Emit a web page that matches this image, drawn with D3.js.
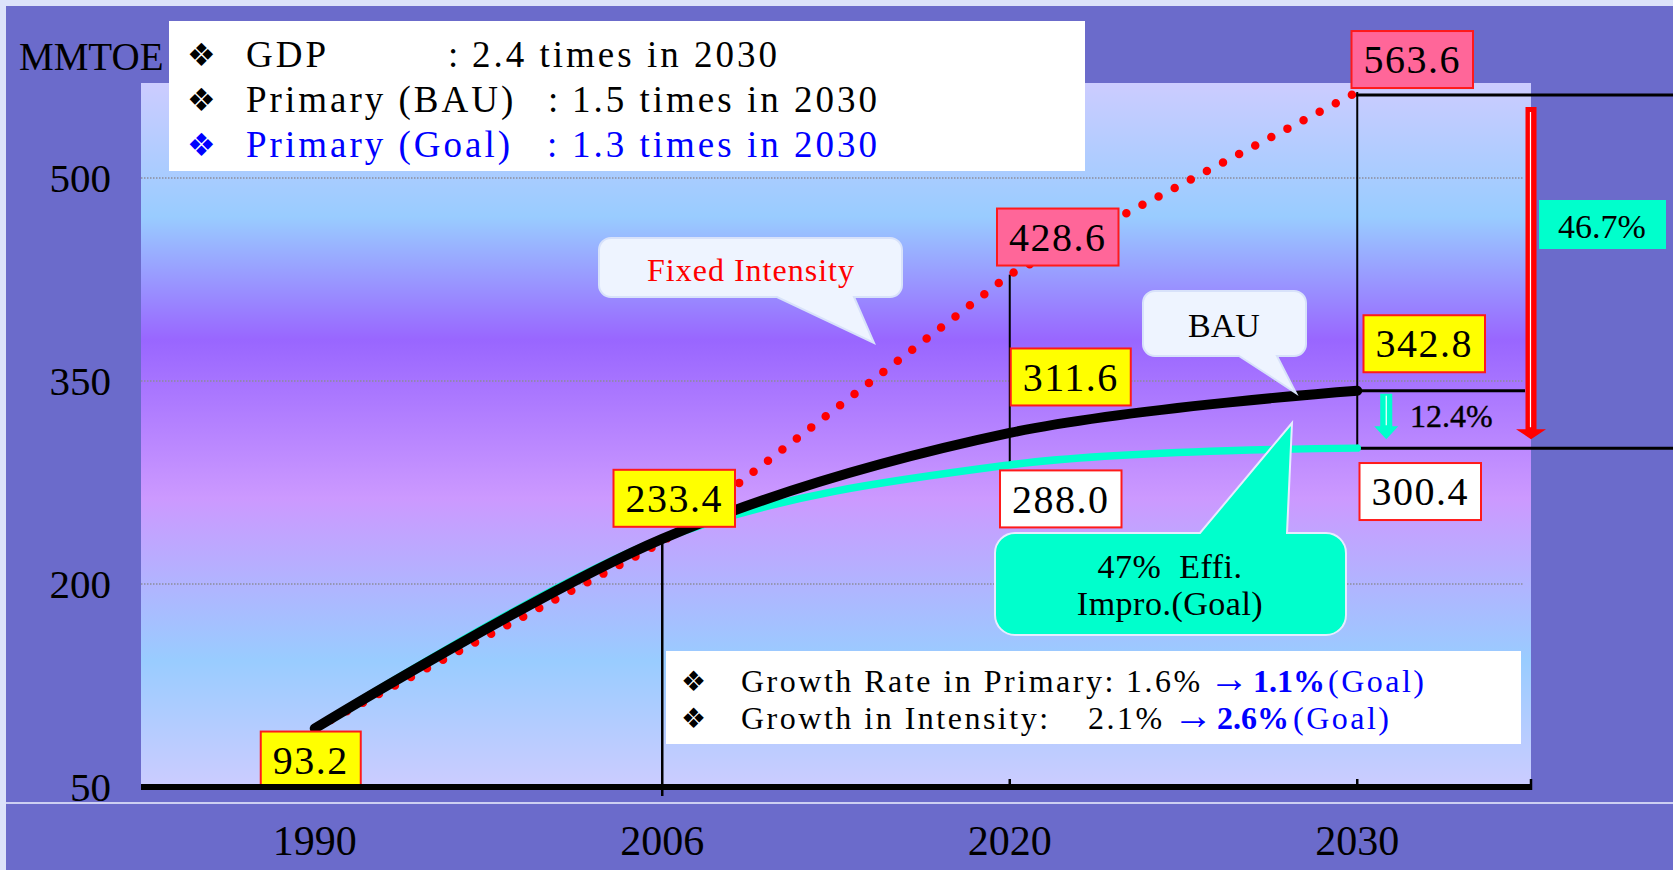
<!DOCTYPE html>
<html><head><meta charset="utf-8">
<script src="https://cdn.jsdelivr.net/npm/d3@7/dist/d3.min.js"></script>
<style>html,body{margin:0;padding:0;overflow:hidden;background:#6B6BCB}svg{display:block}</style>
</head><body>
<svg id="chart" width="1673" height="870"></svg>
<script>
// ---------------- data ----------------
const years = [1990, 2006, 2020, 2030];
const bauValues = [93.2, 233.4, 311.6, 342.8];
const goalValues = [93.2, 233.4, 288.0, 300.4];
const fixedIntensityValues = [93.2, 231.0, 428.6, 563.6];
const yTickValues = [50, 200, 350, 500];
const gridValues = [200, 350, 500];
const unitLabel = "MMTOE";
const headerNames = ["GDP", "Primary (BAU)", "Primary (Goal)"];
const headerRatios = ["2.4 times in 2030", "1.5 times in 2030", "1.3 times in 2030"];
const noteNames = ["Growth Rate in Primary:", "Growth in Intensity:"];
const noteFrom = ["1.6%", "2.1%"];
const noteGoal = ["1.1%", "2.6%"];
const noteGoalTag = "(Goal)";
const calloutTexts = ["Fixed Intensity", "BAU"];
const effiTexts = ["47%  Effi.", "Impro.(Goal)"];
const reductionTotal = "46.7%";
const reductionBau = "12.4%";
const labelledPoints = [["bau",0],["bau",1],["bau",2],["goal",2],["fixed",2],["fixed",3],["bau",3],["goal",3]];

// ---------------- setup ----------------
const W = 1673, H = 870;
const SERIF = "'Liberation Serif','DejaVu Serif','Times New Roman',serif";
const SYM = "'DejaVu Sans','Noto Sans',sans-serif";
const plot = {x0: 141, x1: 1531, y0: 83, y1: 787};
const series = {bau: bauValues, goal: goalValues, fixed: fixedIntensityValues};
const seriesFill = {bau: "#FFFF00", goal: "#FFFFFF", fixed: "#FF6699"};

const svg = d3.select("#chart");
const x = d3.scalePoint().domain(years).range([plot.x0, plot.x1]).padding(0.5);
const y = d3.scaleLinear().domain([50, 500]).range([787, 178]);

const defs = svg.append("defs");
const grad = defs.append("linearGradient").attr("id","pg").attr("x1",0).attr("y1",0).attr("x2",0).attr("y2",1);
[[0,"#CCCCFF"],[0.19,"#99CCFF"],[0.365,"#9966FF"],[0.59,"#CC99FF"],[0.82,"#99CCFF"],[1,"#CCCCFF"]]
  .forEach(([o,c]) => grad.append("stop").attr("offset",o).attr("stop-color",c));

// background
svg.append("rect").attr("width",W).attr("height",H).attr("fill","#DCE2FA");
svg.append("rect").attr("x",6).attr("y",6).attr("width",W-6).attr("height",H-6).attr("fill","#6B6BCB");
svg.append("rect").attr("x",plot.x0).attr("y",plot.y0).attr("width",plot.x1-plot.x0).attr("height",plot.y1-plot.y0).attr("fill","url(#pg)");
svg.append("line").attr("x1",6).attr("x2",W).attr("y1",803).attr("y2",803).attr("stroke","#EEF0FF").attr("stroke-width",1.5);

// gridlines
svg.append("g").selectAll("line").data(gridValues).join("line")
  .attr("x1",plot.x0).attr("x2",plot.x1-8).attr("y1",d=>y(d)).attr("y2",d=>y(d))
  .attr("stroke","#8C8C9C").attr("stroke-width",1.5).attr("stroke-dasharray","1.5 1.5");

// y labels
svg.append("g").selectAll("text").data(yTickValues).join("text")
  .attr("x",111).attr("y",d=>y(d)).attr("dy","0.34em").attr("text-anchor","end")
  .attr("font-family",SERIF).attr("font-size",41).attr("fill","#000").text(d=>d);
svg.append("text").attr("x",19).attr("y",70).attr("font-family",SERIF).attr("font-size",39)
  .attr("fill","#000").text(unitLabel);

// header box
svg.append("rect").attr("x",169).attr("y",21).attr("width",916).attr("height",150).attr("fill","#FFFFFF");
const headerColors = ["#000000","#000000","#0000FF"];
const colonX = [448, 548, 547], ratioX = [472, 572, 572];
headerNames.forEach((n,i) => {
  const by = 66.7 + 45*i;
  svg.append("text").attr("x",187).attr("y",by-1).attr("font-family",SYM).attr("font-size",32)
    .attr("fill",headerColors[i]).text("\u2756");
  const t = (xx, s) => svg.append("text").attr("x",xx).attr("y",by).attr("font-family",SERIF)
    .attr("font-size",37).attr("letter-spacing","3px").attr("fill",headerColors[i]).text(s);
  t(246, n); t(colonX[i], ":"); t(ratioX[i], headerRatios[i]);
});

// notes box
svg.append("rect").attr("x",666).attr("y",651).attr("width",855).attr("height",93).attr("fill","#FFFFFF");
const notePos = [
  {from:1126, arr:1209, goal:1253, tag:1328},
  {from:1088, arr:1173, goal:1217, tag:1293}
];
noteNames.forEach((n,i) => {
  const by = 692 + 37*i, p = notePos[i];
  svg.append("text").attr("x",681).attr("y",by-1).attr("font-family",SYM).attr("font-size",28)
    .attr("fill","#000").text("\u2756");
  const t = (xx, s, col, bold, fs) => svg.append("text").attr("x",xx).attr("y",by).attr("font-family",SERIF)
    .attr("font-size",fs || 32).attr("letter-spacing", bold ? "0px" : "2.5px").attr("font-weight", bold ? "bold" : "normal")
    .attr("fill",col).text(s);
  t(741, n, "#000"); t(p.from, noteFrom[i], "#000"); t(p.arr, "\u2192", "#0000FF", false, 40);
  t(p.goal, noteGoal[i], "#0000FF", true); t(p.tag, noteGoalTag, "#0000FF");
});

// guide lines
const g = svg.append("g").attr("stroke","#000");
g.append("line").attr("x1",x(2006)).attr("x2",x(2006)).attr("y1",y(bauValues[1])).attr("y2",796).attr("stroke-width",2.5);
g.append("line").attr("x1",x(2020)).attr("x2",x(2020)).attr("y1",y(fixedIntensityValues[2])).attr("y2",y(goalValues[2])).attr("stroke-width",2);
g.append("line").attr("x1",x(2030)).attr("x2",x(2030)).attr("y1",y(fixedIntensityValues[3])).attr("y2",y(goalValues[3])).attr("stroke-width",2);
g.append("line").attr("x1",x(2030)-2).attr("x2",W).attr("y1",y(fixedIntensityValues[3])+3).attr("y2",y(fixedIntensityValues[3])+3).attr("stroke-width",3);
g.append("line").attr("x1",x(2030)).attr("x2",plot.x1-6).attr("y1",y(bauValues[3])).attr("y2",y(bauValues[3])).attr("stroke-width",3);
g.append("line").attr("x1",x(2030)-2).attr("x2",W).attr("y1",y(goalValues[3])).attr("y2",y(goalValues[3])).attr("stroke-width",3);

// series lines
const smooth = d3.line().x((d,i)=>x(years[i])).y(d=>y(d)).curve(d3.curveCardinal.tension(0));
const straight = d3.line().x((d,i)=>x(years[i])).y(d=>y(d));
svg.append("path").attr("d",straight(fixedIntensityValues)).attr("fill","none").attr("stroke","#FF0000")
  .attr("stroke-width",8.5).attr("stroke-linecap","round").attr("stroke-dasharray","0 18.2");
svg.append("path").attr("d",smooth(goalValues)).attr("fill","none").attr("stroke","#00FFCC")
  .attr("stroke-width",7.5).attr("stroke-linecap","round");
svg.append("path").attr("d",smooth(bauValues)).attr("fill","none").attr("stroke","#000000")
  .attr("stroke-width",10).attr("stroke-linecap","round");

// callouts
function calloutPath(x0,y0,w,h,rad,side,b1,b2,tx,ty){
  const x1=x0+w, y1=y0+h, p=d3.path();
  p.moveTo(x0+rad,y0);
  if(side==="top"){p.lineTo(b1,y0);p.lineTo(tx,ty);p.lineTo(b2,y0);}
  p.lineTo(x1-rad,y0); p.arcTo(x1,y0,x1,y0+rad,rad);
  p.lineTo(x1,y1-rad); p.arcTo(x1,y1,x1-rad,y1,rad);
  if(side==="bottom"){p.lineTo(b2,y1);p.lineTo(tx,ty);p.lineTo(b1,y1);}
  p.lineTo(x0+rad,y1); p.arcTo(x0,y1,x0,y1-rad,rad);
  p.lineTo(x0,y0+rad); p.arcTo(x0,y0,x0+rad,y0,rad);
  p.closePath(); return p.toString();
}
svg.append("path").attr("d",calloutPath(599,238,303,59,12,"bottom",777,854,874,343))
  .attr("fill","#EEF4FF").attr("stroke","#D8E2FA").attr("stroke-width",2);
svg.append("text").attr("x",751).attr("y",281).attr("text-anchor","middle").attr("font-family",SERIF)
  .attr("font-size",32).attr("letter-spacing","1px").attr("fill","#FF0000").text(calloutTexts[0]);
svg.append("path").attr("d",calloutPath(1143,291,163,65,12,"bottom",1239,1277,1296,393))
  .attr("fill","#EEF4FF").attr("stroke","#D8E2FA").attr("stroke-width",2);
svg.append("text").attr("x",1224).attr("y",337).attr("text-anchor","middle").attr("font-family",SERIF)
  .attr("font-size",34).attr("fill","#000").text(calloutTexts[1]);
svg.append("path").attr("d",calloutPath(995,533,351,102,20,"top",1200,1287,1292,423))
  .attr("fill","#00FFCC").attr("stroke","#E6ECFF").attr("stroke-width",2);
effiTexts.forEach((s,i) => svg.append("text").attr("x",1170).attr("y",578+37*i).attr("text-anchor","middle")
  .attr("font-family",SERIF).attr("font-size",34).attr("letter-spacing","0.5px").style("white-space","pre")
  .attr("fill","#000").text(s));

// value labels
const labelOffset = {
  "bau0":[-4,31.5], "bau1":[12,-40.5], "bau2":[61,-56], "goal2":[51,34],
  "fixed2":[48,-37.6], "fixed3":[55,-32.4], "bau3":[67,-47], "goal3":[63,43.4]
};
labelledPoints.forEach(([s,i]) => {
  const v = series[s][i], off = labelOffset[s+i];
  const cx = x(years[i]) + off[0], cy = y(v) + off[1];
  const gg = svg.append("g");
  const r = gg.append("rect");
  const t = gg.append("text").attr("x",cx).attr("y",cy).attr("dy","0.34em").attr("text-anchor","middle")
    .attr("font-family",SERIF).attr("font-size",40).attr("letter-spacing","1.5px").attr("fill","#000").text(v.toFixed(1));
  const w = t.node().getComputedTextLength() + 24, h = 57;
  r.attr("x",cx-w/2).attr("y",cy-h/2).attr("width",w).attr("height",h)
    .attr("fill",seriesFill[s]).attr("stroke","#FF1A1A").attr("stroke-width",2);
});

// reduction arrows
const ax = plot.x1, aTop = y(fixedIntensityValues[3]) + 15, aTip = y(goalValues[3]) - 9;
svg.append("path").attr("d", d3.line()([[ax-5.5,aTop],[ax+5.5,aTop],[ax+5.5,aTip-10],[ax+15,aTip-10],[ax,aTip],[ax-15,aTip-10],[ax-5.5,aTip-10]]) + "Z")
  .attr("fill","#FF0000");
svg.append("line").attr("x1",ax-0.5).attr("x2",ax-0.5).attr("y1",aTop+5).attr("y2",aTip-12).attr("stroke","#FFFFFF").attr("stroke-width",1.2);
const cxA = x(2030) + 29, cTop = y(bauValues[3]) + 3, cTip = y(goalValues[3]) - 9;
svg.append("path").attr("d", d3.line()([[cxA-6,cTop],[cxA+6,cTop],[cxA+6,cTip-13],[cxA+12,cTip-13],[cxA,cTip],[cxA-12,cTip-13],[cxA-6,cTip-13]]) + "Z")
  .attr("fill","#00FFCC");
svg.append("line").attr("x1",cxA).attr("x2",cxA).attr("y1",cTop+2).attr("y2",cTip-14).attr("stroke","#FFFFFF").attr("stroke-width",1.2);
svg.append("rect").attr("x",plot.x1+8).attr("y",200).attr("width",127).attr("height",49).attr("fill","#00FFCC");
svg.append("text").attr("x",plot.x1+71).attr("y",238).attr("text-anchor","middle").attr("font-family",SERIF)
  .attr("font-size",34).attr("fill","#000").text(reductionTotal);
svg.append("text").attr("x",1410).attr("y",427).attr("font-family",SERIF).attr("font-size",32)
  .attr("fill","#000").attr("stroke","#000").attr("stroke-width",0.4).text(reductionBau);

// x axis
svg.append("line").attr("x1",plot.x0).attr("x2",plot.x1).attr("y1",787).attr("y2",787).attr("stroke","#000").attr("stroke-width",6);
svg.append("g").selectAll("line").data([x(2020), x(2030), plot.x1]).join("line")
  .attr("x1",d=>d).attr("x2",d=>d).attr("y1",779).attr("y2",790).attr("stroke","#000").attr("stroke-width",2.5);
svg.append("g").selectAll("text").data(years).join("text")
  .attr("x",d=>x(d)).attr("y",855).attr("text-anchor","middle").attr("font-family",SERIF)
  .attr("font-size",42).attr("fill","#000").text(d=>d);
</script>
</body></html>
